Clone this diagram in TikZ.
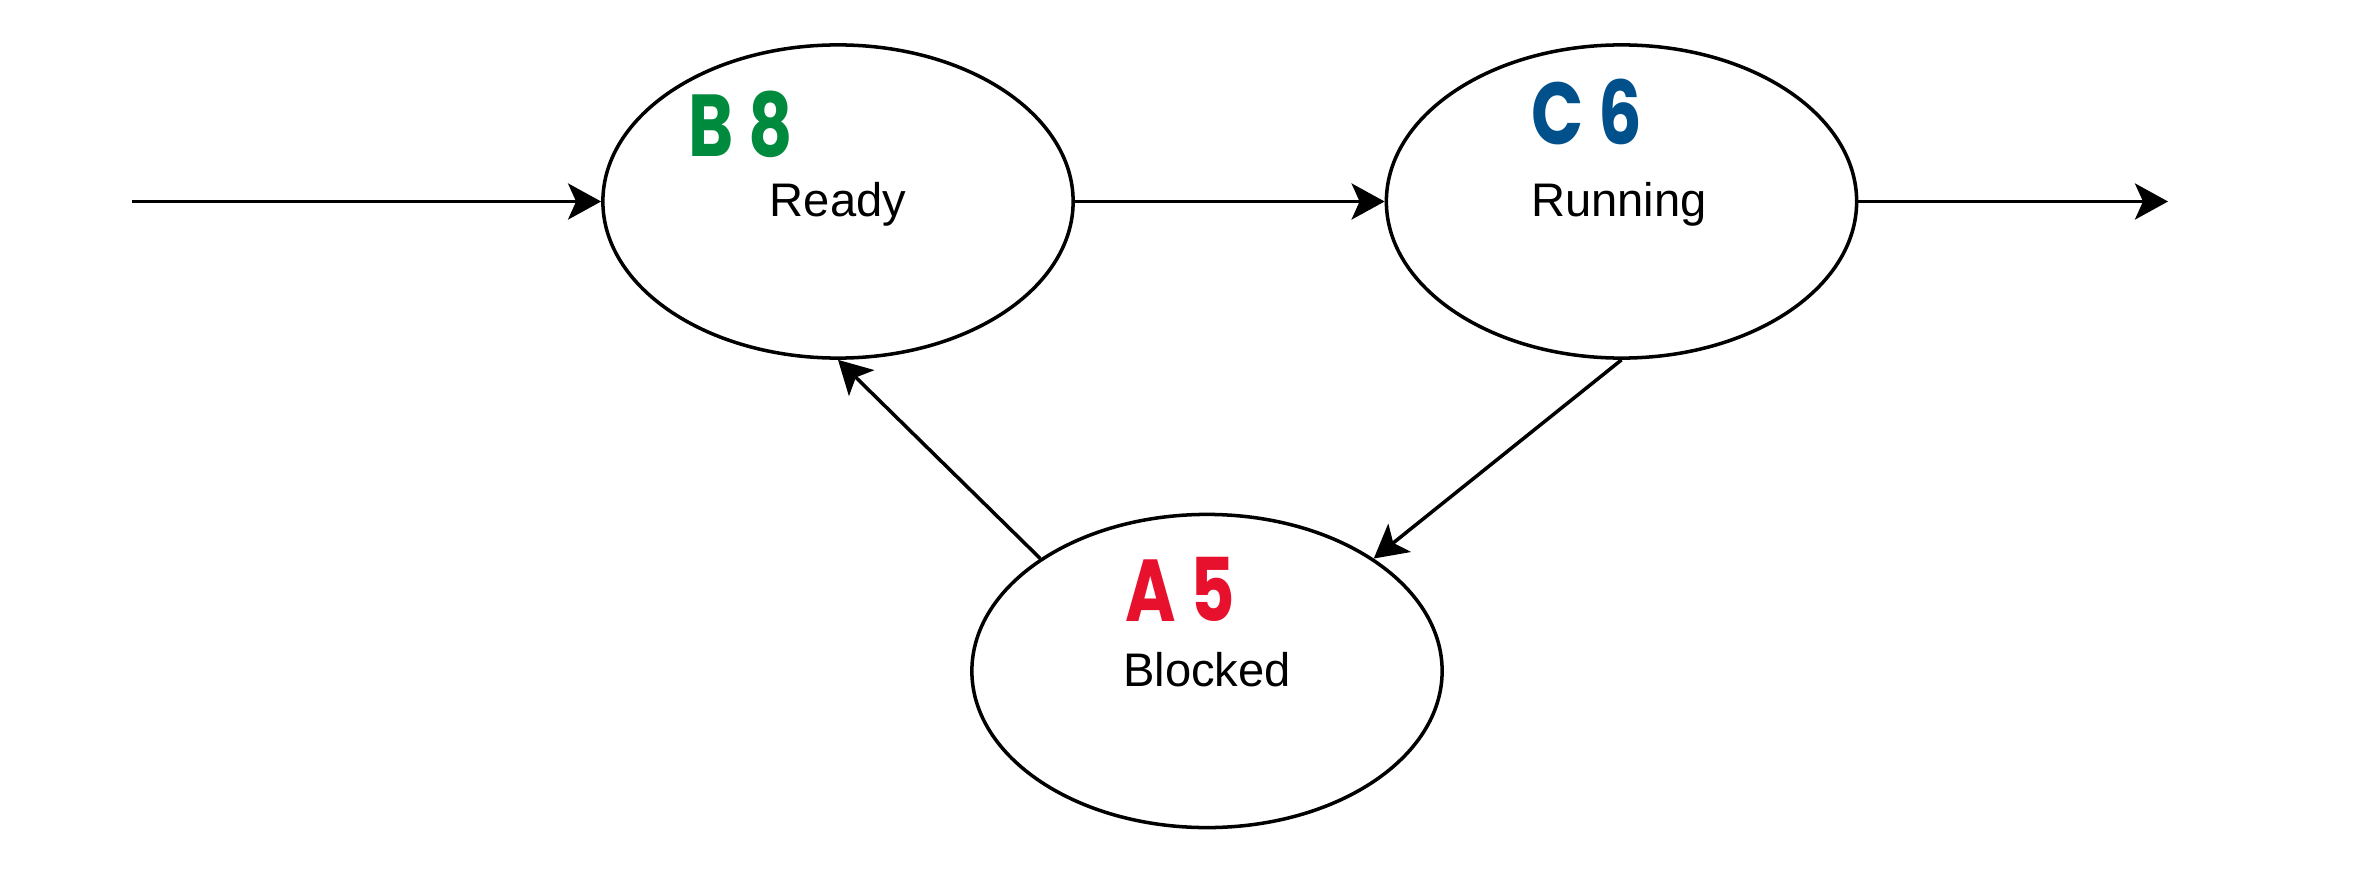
\documentclass[tikz,border=0pt]{standalone}
\usepackage{fontspec}
\setmainfont{Liberation Sans}
\newfontfamily\handfont{Poppins Bold}
\usetikzlibrary{shapes.geometric,arrows.meta}
\definecolor{hgreen}{HTML}{008A3E}
\definecolor{hblue}{HTML}{00508C}
\definecolor{hred}{HTML}{E8112D}
\begin{document}
\begin{tikzpicture}[x=0.01cm,y=-0.01cm,
  state/.style={draw=black,ellipse,line width=1pt,minimum width=4.7cm,minimum height=3.13cm,inner sep=0pt},
  lbl/.style={font=\fontsize{13.4}{15}\selectfont,anchor=base,inner sep=0pt},
  hand/.style={font=\handfont\fontsize{25}{28}\selectfont,anchor=base,inner sep=0pt,xscale=0.78},
  conn/.style={line width=1pt,-{Stealth[length=0.33cm,width=0.36cm,inset=0.08cm]}}]
\useasboundingbox (0,0) rectangle (2361,873);
\node[state] (ready) at (838,201.5) {};
\node[state] (running) at (1621.5,201.5) {};
\node[state] (blocked) at (1207,671) {};
\node[lbl] (readyt) at (838,216) {Ready};
\node[lbl] (runningt) at (1619,216) {Running};
\node[lbl] (blockedt) at (1207,686) {Blocked};
\node[hand,text=hgreen] (b8) at (741,157) {B 8};
\node[hand,text=hblue] (c6) at (1587,145) {C 6};
\node[hand,text=hred] (a5) at (1180,621) {A 5};
\coordinate (in) at (132,201.5);
\coordinate (out) at (2168,201.5);
\draw[conn] (in) -- (ready.west);
\draw[conn] (ready.east) -- (running.west);
\draw[conn] (running.east) -- (out);
\draw[conn] (running.south) -- (blocked.34.5);
\draw[conn] (blocked.146.2) -- (ready.south);
\end{tikzpicture}
\end{document}
